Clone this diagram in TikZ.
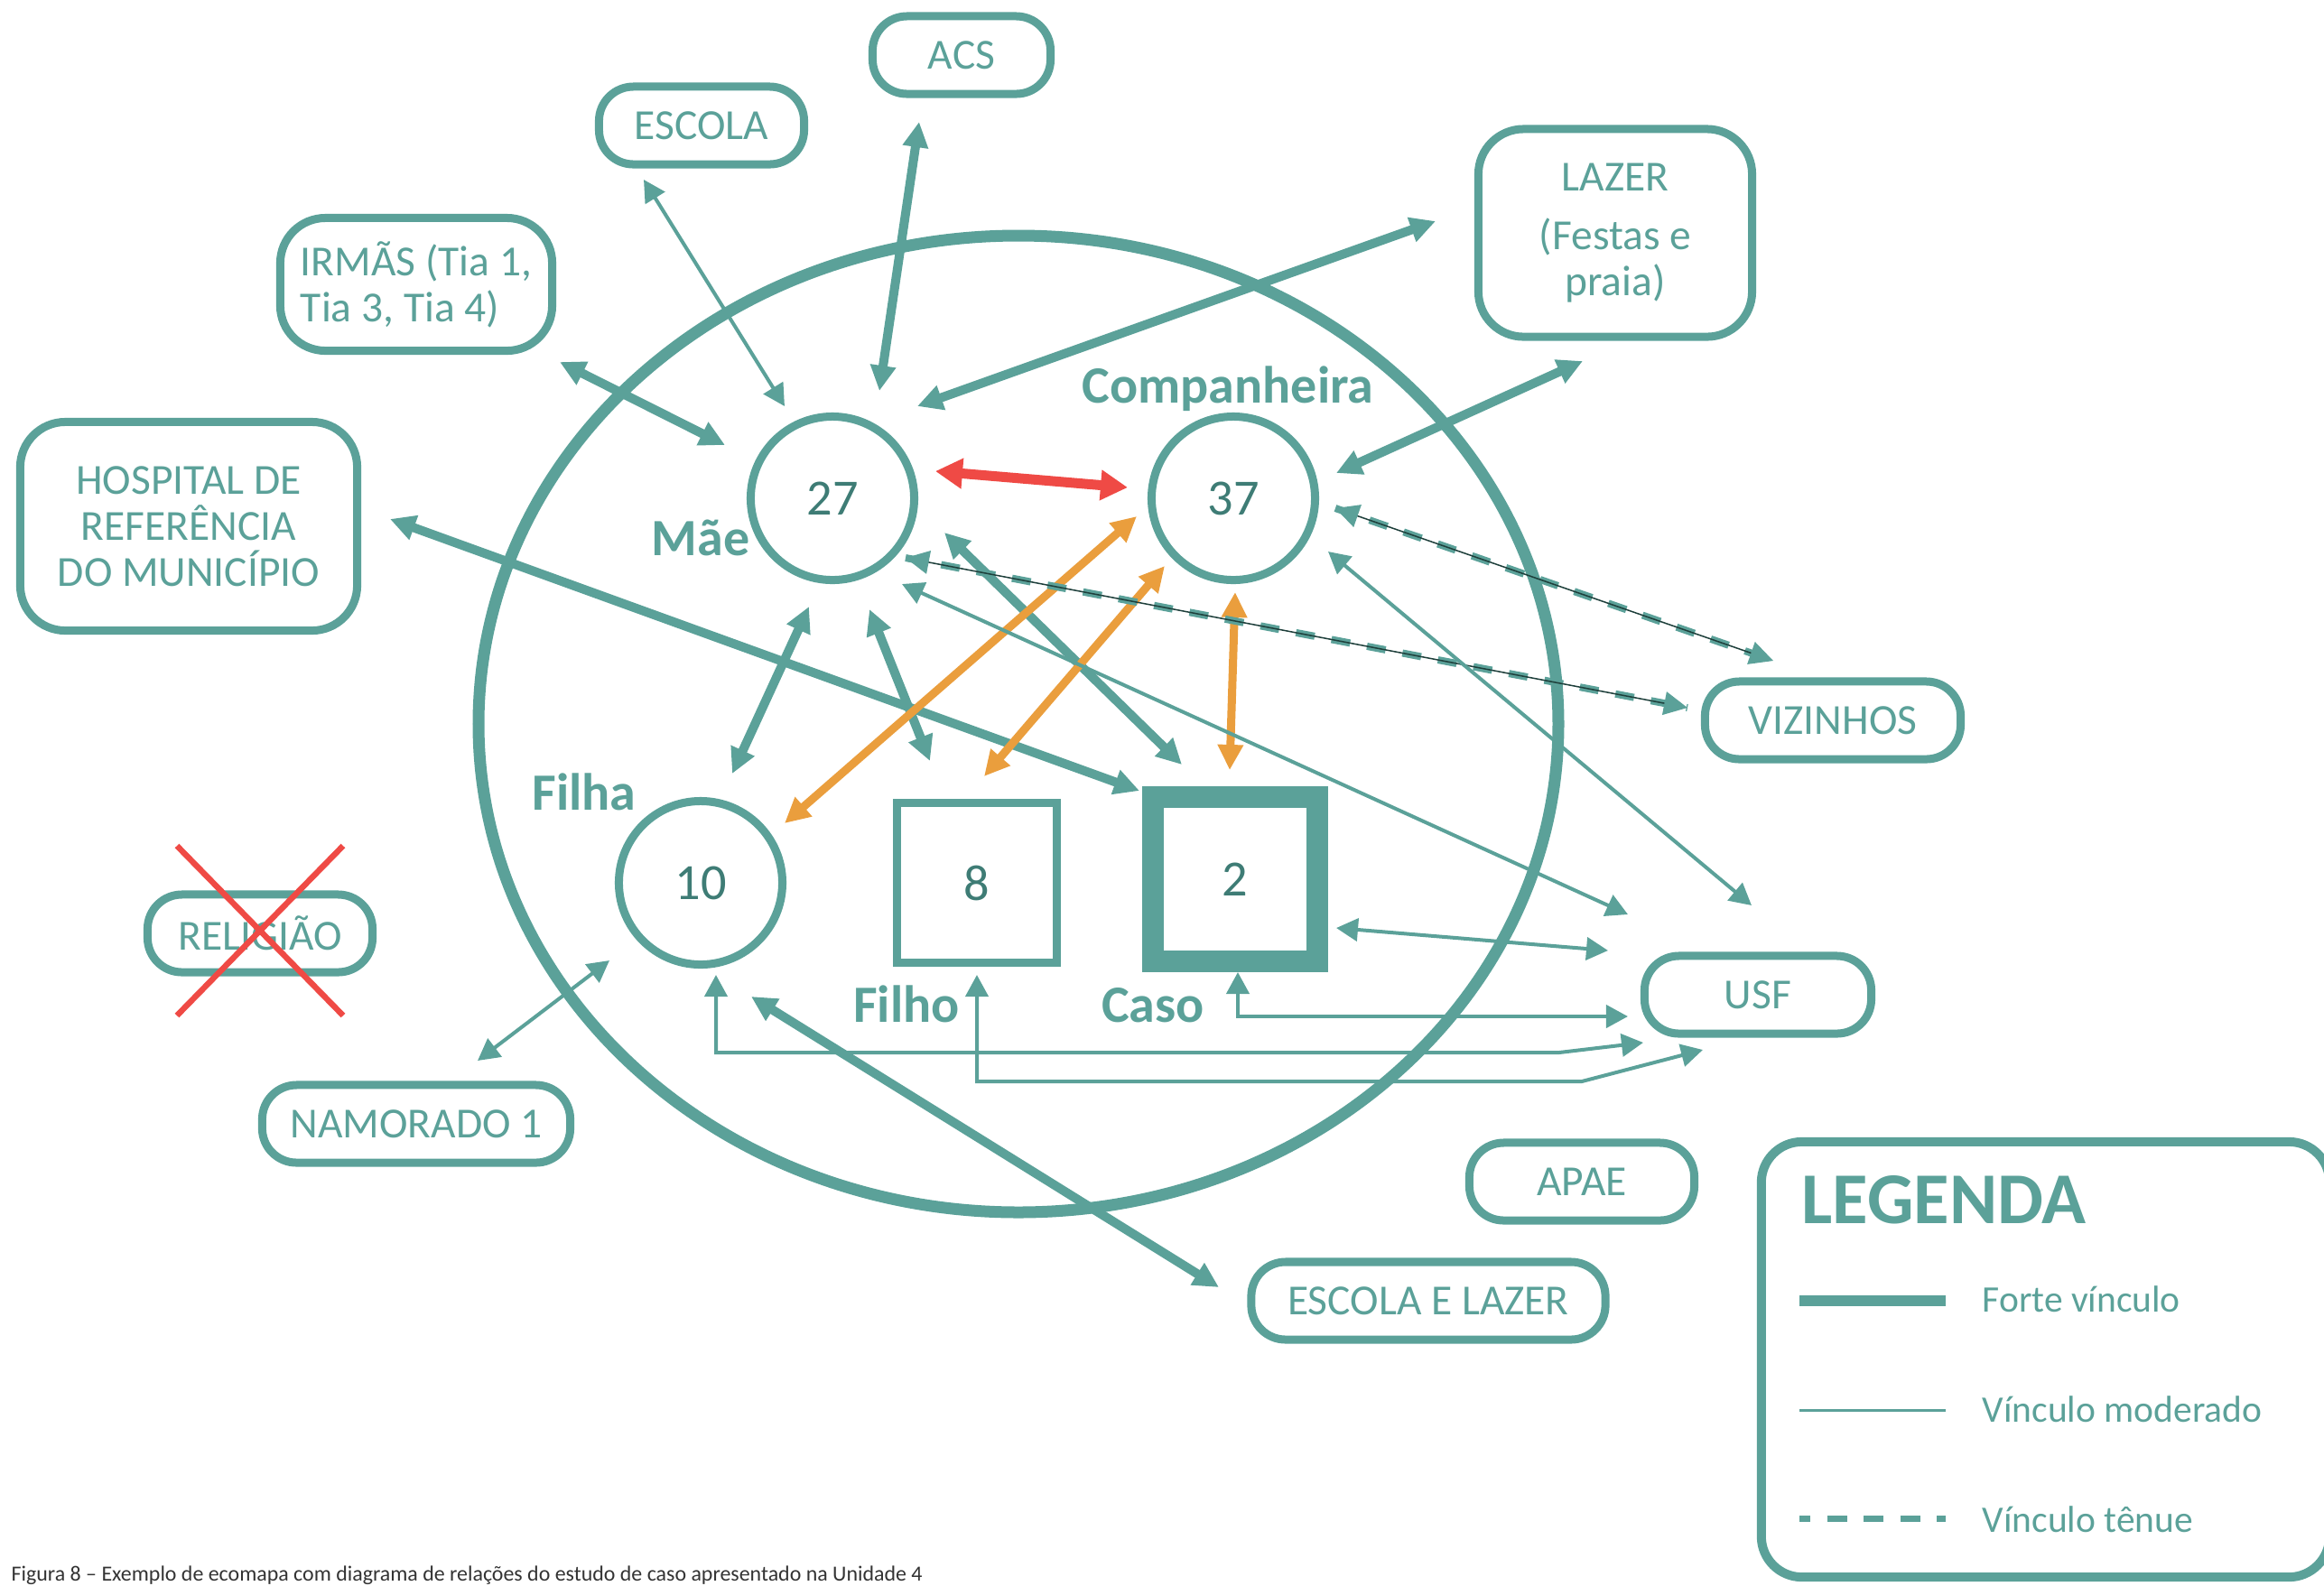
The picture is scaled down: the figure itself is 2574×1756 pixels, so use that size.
\documentclass[tikz,border=0pt]{standalone}
\usepackage{fontspec}
\setmainfont{Carlito}
\usepackage{tikz}
\usetikzlibrary{arrows.meta, calc}
\definecolor{ecoTeal}{HTML}{5BA199}
\definecolor{ecoNum}{HTML}{3E7C75}
\definecolor{ecoDark}{HTML}{1E3F3B}
\definecolor{ecoRed}{HTML}{EF4A45}
\definecolor{ecoOrange}{HTML}{EA9E3D}

\begin{document}
\begin{tikzpicture}[x=0.01cm, y=-0.01cm,
        fortetip/.tip={Triangle[length=2.8mm, width=2.7mm]},
        modtip/.tip={Triangle[length=2.4mm, width=2.5mm]},
        redtip/.tip={Triangle[length=3mm, width=3.2mm]},
        tenuetip/.tip={Triangle[length=2.6mm, width=2.6mm, color=ecoTeal]},
        box/.style={draw=ecoTeal, line width=0.9mm, rounded corners=3.8mm, text=ecoTeal, align=center,
              inner sep=0pt, minimum height=0.86cm, font=\fontsize{13.5}{14.5}\selectfont},
        bigbox/.style={box, rounded corners=5mm},
        pessoa/.style={circle, draw=ecoTeal, line width=0.9mm, minimum size=1.81cm, inner sep=0pt,
              text=ecoNum, font=\fontsize{16}{18}\selectfont},
        nome/.style={anchor=base, inner sep=0pt, text=ecoTeal, font=\bfseries\fontsize{16.5}{18}\selectfont},
        legtxt/.style={anchor=base west, inner sep=0pt, text=ecoTeal, font=\fontsize{11.8}{13}\selectfont},
        forte/.style={draw=ecoTeal, line width=1mm, fortetip-fortetip},
        moderado/.style={draw=ecoTeal, line width=0.4mm, modtip-modtip},
        tenue/.style={draw=ecoDark, line width=0.15mm, tenuetip-tenuetip,
              preaction={draw=ecoTeal, line width=0.8mm, dash pattern=on 2.1mm off 1.9mm, arrows=-}},
        laranja/.style={draw=ecoOrange, line width=0.9mm, fortetip-fortetip},
        vermelho/.style={draw=ecoRed, line width=1.1mm, redtip-redtip},
        cruz/.style={draw=ecoRed, line width=0.65mm}]
        \useasboundingbox (0,0) rectangle (2574,1756);

        \draw[ecoTeal, line width=1.3mm] (1128,802) ellipse [x radius=598, y radius=541];

        \node[box, minimum width=1.97cm] (acs) at (1065,61) {ACS};
        \node[box, minimum width=2.27cm] (escola) at (777,139) {ESCOLA};
        \node[bigbox, align=left, minimum width=3.01cm, minimum height=1.47cm] (irmas) at (461,315) {IRMÃS (Tia 1,\\Tia 3, Tia 4)};
        \node[bigbox, minimum width=3.03cm, minimum height=2.30cm] (lazer) at (1789,258) {LAZER\\[1.4mm](Festas e\\praia)};
        \node[bigbox, minimum width=3.73cm, minimum height=2.31cm] (hospital) at (209,583) {HOSPITAL DE\\REFERÊNCIA\\DO MUNICÍPIO};
        \node[box, minimum width=2.83cm] (vizinhos) at (2030,798) {VIZINHOS};
        \node[box, minimum width=2.51cm] (usf) at (1947,1102) {USF};
        \node[box, minimum width=2.49cm] (religiao) at (288,1034) {RELIGIÃO};
        \node[box, minimum width=3.41cm] (namorado) at (461,1245) {NAMORADO 1};
        \node[box, minimum width=2.49cm] (apae) at (1752,1309) {APAE};
        \node[box, minimum width=3.92cm] (escolalazer) at (1582,1441) {ESCOLA E LAZER};

        \node[pessoa] (mae) at (922,552) {27};
        \node[pessoa] (comp) at (1366,552) {37};
        \node[pessoa] (filha) at (776,978) {10};
        \node[pessoa, rectangle, minimum size=1.76cm] (filho) at (1082,978) {8};
        \node[pessoa, rectangle, line width=2.4mm, minimum size=1.82cm] (caso) at (1368,974) {2};

        \node[nome] (nmae) at (776,615) {Mãe};
        \node[nome] (ncomp) at (1360,446) {Companheira};
        \node[nome] (nfilha) at (647,897) {Filha};
        \node[nome] (nfilho) at (1004,1132) {Filho};
        \node[nome] (ncaso) at (1277,1132) {Caso};

        \draw[moderado] ([shift={(-64,60)}]escola.center) -- ([shift={(-53,-102)}]mae.center);
        \draw[forte] ([shift={(-47,74)}]acs.center) -- ([shift={(52,-119)}]mae.center);
        \draw[forte] ([shift={(159,86)}]irmas.center) -- ([shift={(-119,-59)}]mae.center);
        \draw[forte] ([shift={(-199,-13)}]lazer.center) -- ([shift={(94,-102)}]mae.center);
        \draw[forte] ([shift={(-36,142)}]lazer.center) -- ([shift={(114,-28)}]comp.center);
        \draw[forte] ([shift={(223,-8)}]hospital.center) -- ([shift={(-106,-98)}]caso.center);
        \draw[vermelho] ([shift={(114,-30)}]mae.center) -- ([shift={(-117,-12)}]comp.center);
        \draw[forte] ([shift={(-26,120)}]mae.center) -- ([shift={(35,-121)}]filha.center);
        \draw[forte] ([shift={(41,123)}]mae.center) -- ([shift={(-52,-135)}]filho.center);
        \draw[forte] ([shift={(124,38)}]mae.center) -- ([shift={(-59,-127)}]caso.center);
        \draw[laranja] ([shift={(-107,20)}]comp.center) -- ([shift={(93,-66)}]filha.center);
        \draw[laranja] ([shift={(-76,75)}]comp.center) -- ([shift={(8,-118)}]filho.center);
        \draw[laranja] ([shift={(2,104)}]comp.center) -- ([shift={(-6,-121)}]caso.center);
        \draw[tenue] ([shift={(81,66)}]mae.center) -- ([shift={(-161,-14)}]vizinhos.center);
        \draw[tenue] ([shift={(113,11)}]comp.center) -- ([shift={(-66,-66)}]vizinhos.center);
        \draw[moderado] ([shift={(77,95)}]mae.center) -- ([shift={(-144,-89)}]usf.center);
        \draw[moderado] ([shift={(105,59)}]comp.center) -- ([shift={(-7,-99)}]usf.center);
        \draw[moderado] ([shift={(112,54)}]caso.center) -- ([shift={(-166,-49)}]usf.center);
        \draw[moderado] ([shift={(3,103)}]caso.center) |- ([shift={(-144,24)}]usf.center);
        \draw[moderado] ([shift={(17,102)}]filha.center) -- ++(0,86) -- ++(934,0) -- ([shift={(-127,53)}]usf.center);
        \draw[moderado] ([shift={(0,102)}]filho.center) -- ++(0,118) -- ++(670,0) -- ([shift={(-61,61)}]usf.center);
        \draw[moderado] ([shift={(-101,86)}]filha.center) -- ([shift={(68,-70)}]namorado.center);
        \draw[forte] ([shift={(56,126)}]filha.center) -- ([shift={(-232,-15)}]escolalazer.center);

        \draw[cruz] ([shift={(-92,-97)}]religiao.center) -- ([shift={(92,91)}]religiao.center);
        \draw[cruz] ([shift={(92,-97)}]religiao.center) -- ([shift={(-92,91)}]religiao.center);

        \node[draw=ecoTeal, line width=1mm, rounded corners=4.5mm, minimum width=6.29cm, minimum height=4.82cm] (legenda) at (2265.5,1506) {};
        \node[anchor=base west, inner sep=0pt, text=ecoTeal, font=\bfseries\fontsize{23}{25}\selectfont] (lgtitulo) at (1995,1355) {LEGENDA};
        \node[legtxt] (lgforte) at (2195,1453) {Forte vínculo};
        \node[legtxt] (lgmod) at (2195,1575) {Vínculo moderado};
        \node[legtxt] (lgtenue) at (2195,1697) {Vínculo tênue};
        \draw[ecoTeal, line width=1.2mm] ([shift={(-40,-12)}]lgforte.base west) -- ++(-162,0);
        \draw[ecoTeal, line width=0.3mm] ([shift={(-40,-13)}]lgmod.base west) -- ++(-162,0);
        \draw[ecoTeal, line width=0.7mm, dash pattern=on 2.2mm off 1.85mm, dash phase=1mm] ([shift={(-202,-15)}]lgtenue.base west) -- ++(162,0);

        \node[anchor=base west, inner sep=0pt, text=black!80, font=\fontsize{6.8}{8}\selectfont] (rotulo) at (12,1751) {Figura 8 – Exemplo de ecomapa com diagrama de relações do estudo de caso apresentado na Unidade 4};
      \end{tikzpicture}
\end{document}
